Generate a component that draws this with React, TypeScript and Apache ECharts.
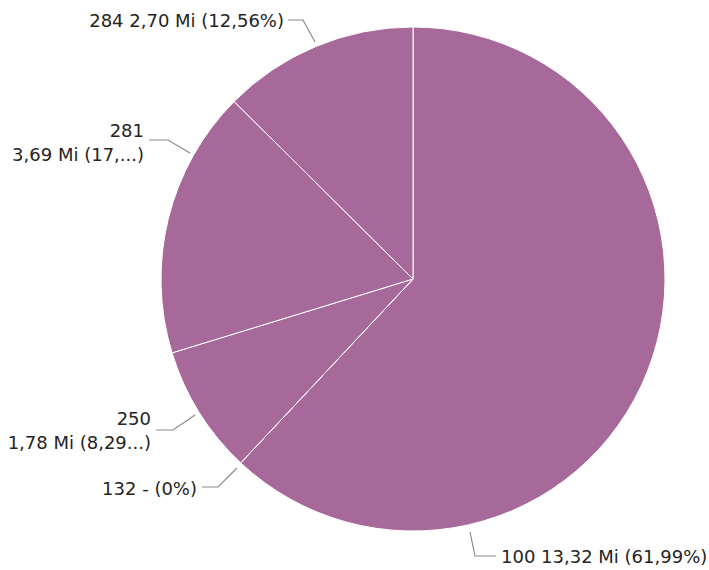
import React, { useEffect, useRef } from "react";
import * as echarts from "echarts";

const categories = ["100", "132", "250", "281", "284"];
const values = [13.32, 0, 1.78, 3.69, 2.7];
const valueLabels = ["13,32 Mi", "-", "1,78 Mi", "3,69 Mi", "2,70 Mi"];
const percentLabels = ["61,99%", "0%", "8,29...", "17,...", "12,56%"];
const wrapped = [false, false, true, true, false];

// label placement (Power BI style outside labels): text anchor + leader line points
const labelPlacement = [
  { x: 501, y: 556, align: "left", line: [[470, 532], [475, 556], [496, 556]] },
  { x: 197, y: 488, align: "right", line: [[237, 468], [218, 487], [202, 487]] },
  { x: 151, y: 430, align: "right", line: [[195, 415], [173, 430], [156, 430]] },
  { x: 144, y: 142, align: "right", line: [[190, 153], [168, 140], [149, 140]] },
  { x: 284, y: 20, align: "right", line: [[315, 42], [303, 20], [288, 20]] },
];

export default function App() {
  const ref = useRef<HTMLDivElement>(null);
  useEffect(() => {
    document.body.style.margin = "0";
    const chart = echarts.init(ref.current!, null, { renderer: "svg" });
    chart.setOption({
      animation: false,
      series: [
        {
          type: "pie",
          center: [413, 279],
          radius: [0, 252],
          startAngle: 90,
          clockwise: true,
          avoidLabelOverlap: false,
          data: categories.map((c, i) => ({ name: c, value: values[i] })),
          itemStyle: { color: "#A66999", borderColor: "#ffffff", borderWidth: 1 },
          label: {
            show: true,
            fontFamily: "DejaVu Sans",
            fontSize: 18,
            color: "#252423",
            lineHeight: 24,
            width: 400,
            overflow: "none",
            formatter: (p: any) => {
              const i = p.dataIndex;
              const sep = wrapped[i] ? "\n" : " ";
              return `${categories[i]}${sep}${valueLabels[i]} (${percentLabels[i]})`;
            },
          },
          labelLine: {
            show: true,
            length: 22,
            length2: 18,
            lineStyle: { color: "#8a8a8a", width: 1.2 },
          },
          labelLayout: (p: any) => {
            const l = labelPlacement[p.dataIndex];
            return {
              x: l.x,
              y: l.y,
              align: l.align,
              verticalAlign: "middle",
              labelLinePoints: l.line,
            };
          },
          emphasis: { disabled: true },
        },
      ],
    });
    return () => chart.dispose();
  }, []);
  return <div ref={ref} style={{ width: 709, height: 570 }} />;
}
